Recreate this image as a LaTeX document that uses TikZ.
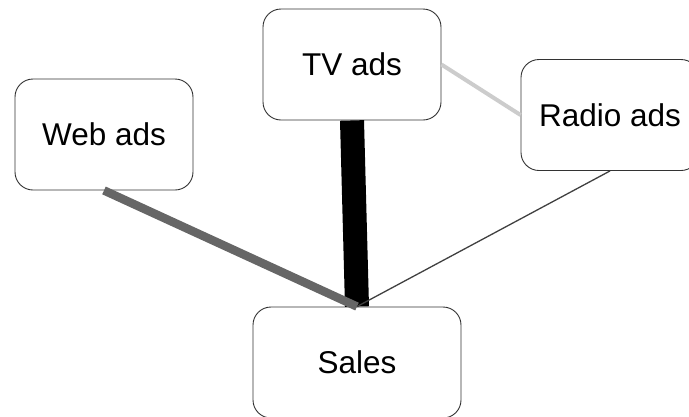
\documentclass[tikz,border=0pt]{standalone}
\usepackage{fontspec}
\setmainfont{Liberation Sans}
\begin{document}
\begin{tikzpicture}[x=1pt,y=-1pt,
  box/.style={draw=black!80,fill=white,line width=0.9pt,rounded corners=18pt,
    minimum width=178pt,minimum height=111pt,inner sep=0pt,
    font=\fontsize{31.5pt}{36pt}\selectfont},
  heavy/.style={draw=black,line width=24pt},
  webedge/.style={draw=black!60,line width=8.5pt},
  thinedge/.style={draw=black!75,line width=1.3pt},
  lightedge/.style={draw=black!20,line width=4pt}]
\useasboundingbox (0,0) rectangle (689,416);
\clip (0,0) rectangle (689,416);
\node[box] (tv) at (352,64.5) {TV ads};
\node[box] (radio) at (610,115) {Radio ads};
\node[box] (web) at (104,134.5) {Web ads};
\node[box,minimum width=208pt] (sales) at (357,362.5) {Sales};
\draw[heavy] (tv.south) -- (sales.north);
\draw[webedge] (web.south) -- (sales.north);
\draw[thinedge] (radio.south) -- (sales.north);
\draw[lightedge] (tv.east) -- (radio.west);
\end{tikzpicture}
\end{document}
